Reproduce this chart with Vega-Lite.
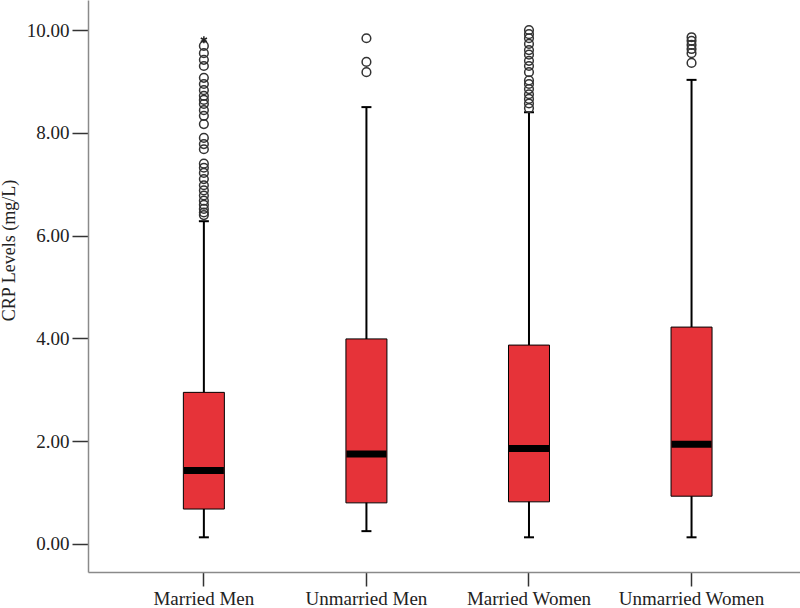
{
  "$schema": "https://vega.github.io/schema/vega-lite/v6.json",
  "width": 712,
  "height": 572,
  "autosize": {"type": "none"},
  "padding": {"left": 88, "top": 0, "right": 0, "bottom": 36},
  "background": "white",
  "config": {
    "view": {"stroke": null},
    "font": "Liberation Serif",
    "axis": {
      "labelFont": "Liberation Serif",
      "titleFont": "Liberation Serif",
      "labelColor": "#222222",
      "titleColor": "#222222",
      "labelFontSize": 19,
      "titleFontSize": 18,
      "titleFontWeight": "normal",
      "domainColor": "#8a8a8a",
      "domainWidth": 1.5,
      "tickColor": "#333333",
      "tickWidth": 1.5,
      "grid": false
    }
  },
  "datasets": {
    "stats": [
      {"group": "Married Men", "lower": 0.13, "q1": 0.68, "median": 1.43, "q3": 2.95, "upper": 6.28},
      {"group": "Unmarried Men", "lower": 0.25, "q1": 0.80, "median": 1.75, "q3": 3.99, "upper": 8.50},
      {"group": "Married Women", "lower": 0.13, "q1": 0.82, "median": 1.86, "q3": 3.87, "upper": 8.40},
      {"group": "Unmarried Women", "lower": 0.13, "q1": 0.93, "median": 1.94, "q3": 4.22, "upper": 9.03}
    ],
    "outliers": [
      {"group": "Married Men", "value": 9.69},
      {"group": "Married Men", "value": 9.55},
      {"group": "Married Men", "value": 9.42},
      {"group": "Married Men", "value": 9.30},
      {"group": "Married Men", "value": 9.07},
      {"group": "Married Men", "value": 8.95},
      {"group": "Married Men", "value": 8.83},
      {"group": "Married Men", "value": 8.72},
      {"group": "Married Men", "value": 8.64},
      {"group": "Married Men", "value": 8.56},
      {"group": "Married Men", "value": 8.44},
      {"group": "Married Men", "value": 8.33},
      {"group": "Married Men", "value": 8.17},
      {"group": "Married Men", "value": 7.90},
      {"group": "Married Men", "value": 7.78},
      {"group": "Married Men", "value": 7.68},
      {"group": "Married Men", "value": 7.40},
      {"group": "Married Men", "value": 7.32},
      {"group": "Married Men", "value": 7.22},
      {"group": "Married Men", "value": 7.10},
      {"group": "Married Men", "value": 6.98},
      {"group": "Married Men", "value": 6.88},
      {"group": "Married Men", "value": 6.78},
      {"group": "Married Men", "value": 6.68},
      {"group": "Married Men", "value": 6.60},
      {"group": "Married Men", "value": 6.52},
      {"group": "Married Men", "value": 6.45},
      {"group": "Married Men", "value": 6.40},
      {"group": "Unmarried Men", "value": 9.84},
      {"group": "Unmarried Men", "value": 9.38},
      {"group": "Unmarried Men", "value": 9.18},
      {"group": "Married Women", "value": 10.00},
      {"group": "Married Women", "value": 9.92},
      {"group": "Married Women", "value": 9.84},
      {"group": "Married Women", "value": 9.73},
      {"group": "Married Women", "value": 9.61},
      {"group": "Married Women", "value": 9.52},
      {"group": "Married Women", "value": 9.40},
      {"group": "Married Women", "value": 9.30},
      {"group": "Married Women", "value": 9.18},
      {"group": "Married Women", "value": 9.02},
      {"group": "Married Women", "value": 8.95},
      {"group": "Married Women", "value": 8.85},
      {"group": "Married Women", "value": 8.75},
      {"group": "Married Women", "value": 8.66},
      {"group": "Married Women", "value": 8.57},
      {"group": "Married Women", "value": 8.48},
      {"group": "Unmarried Women", "value": 9.86},
      {"group": "Unmarried Women", "value": 9.79},
      {"group": "Unmarried Women", "value": 9.71},
      {"group": "Unmarried Women", "value": 9.63},
      {"group": "Unmarried Women", "value": 9.55},
      {"group": "Unmarried Women", "value": 9.36}
    ],
    "extremes": [
      {"group": "Married Men", "value": 9.81}
    ]
  },
  "encoding": {
    "x": {
      "field": "group",
      "type": "nominal",
      "sort": ["Married Men", "Unmarried Men", "Married Women", "Unmarried Women"],
      "scale": {"paddingOuter": 0.19, "paddingInner": 0, "align": 0.56},
      "axis": {"title": null, "labelAngle": 0, "tickSize": 14, "labelPadding": 3}
    }
  },
  "layer": [
    {
      "data": {"name": "stats"},
      "mark": {"type": "rule", "color": "black", "strokeWidth": 2},
      "encoding": {
        "y": {
          "field": "lower",
          "type": "quantitative",
          "scale": {"domain": [-0.545, 10.584], "nice": false, "zero": false},
          "axis": {
            "title": "CRP Levels (mg/L)",
            "values": [0, 2, 4, 6, 8, 10],
            "format": ".2f",
            "tickSize": 16,
            "labelPadding": 3,
            "titleX": -70,
            "titleY": 250
          }
        },
        "y2": {"field": "upper"}
      }
    },
    {
      "data": {"name": "stats"},
      "mark": {"type": "bar", "width": 41, "fill": "#e63339", "stroke": "black", "strokeWidth": 1},
      "encoding": {
        "y": {"field": "q1", "type": "quantitative"},
        "y2": {"field": "q3"}
      }
    },
    {
      "data": {"name": "stats"},
      "mark": {"type": "tick", "color": "black", "size": 40, "thickness": 7, "opacity": 1},
      "encoding": {
        "y": {"field": "median", "type": "quantitative"}
      }
    },
    {
      "data": {"name": "stats"},
      "mark": {"type": "tick", "color": "black", "size": 10, "thickness": 2, "opacity": 1},
      "encoding": {
        "y": {"field": "lower", "type": "quantitative"}
      }
    },
    {
      "data": {"name": "stats"},
      "mark": {"type": "tick", "color": "black", "size": 10, "thickness": 2, "opacity": 1},
      "encoding": {
        "y": {"field": "upper", "type": "quantitative"}
      }
    },
    {
      "data": {"name": "outliers"},
      "mark": {"type": "point", "shape": "circle", "filled": false, "stroke": "#333333", "strokeWidth": 1.5, "size": 75, "opacity": 1},
      "encoding": {
        "y": {"field": "value", "type": "quantitative"}
      }
    },
    {
      "data": {"name": "extremes"},
      "mark": {"type": "point", "shape": "M0,-1L0,1M-0.87,-0.5L0.87,0.5M-0.87,0.5L0.87,-0.5", "filled": false, "stroke": "#222222", "strokeWidth": 1.5, "size": 50, "opacity": 1},
      "encoding": {
        "y": {"field": "value", "type": "quantitative"}
      }
    }
  ]
}
